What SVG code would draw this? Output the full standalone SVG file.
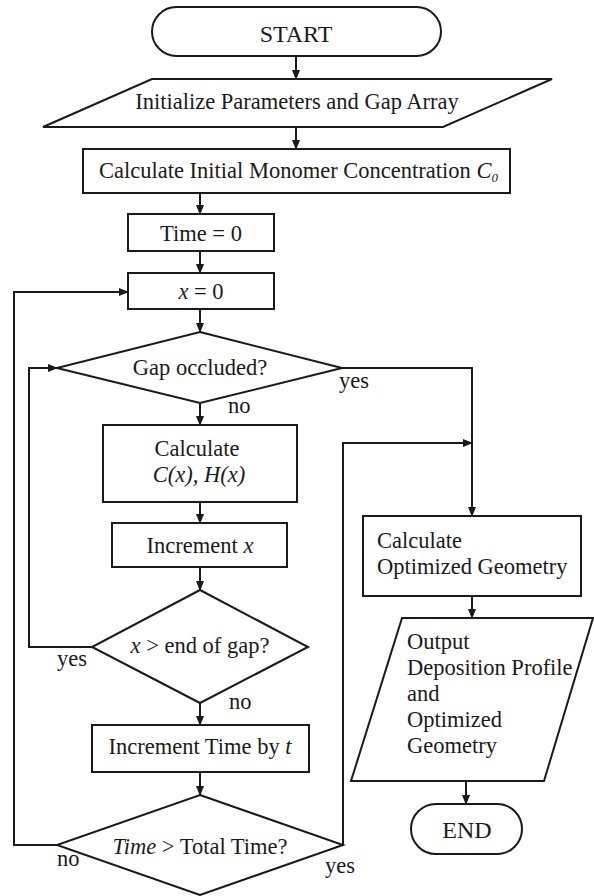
<svg xmlns="http://www.w3.org/2000/svg" width="594" height="896" viewBox="0 0 594 896">
<style>
.s{fill:#fff;stroke:#1a1a1a;stroke-width:2}
.c{fill:none;stroke:#1a1a1a;stroke-width:2}
text{font-family:"Liberation Serif","Times New Roman",serif;font-size:22.5px;fill:#1a1a1a}
.m{text-anchor:middle}
.i{font-style:italic}
.b{font-size:24px}
</style>
<defs>
<marker id="ah" markerWidth="10" markerHeight="8" refX="9" refY="4" orient="auto" markerUnits="userSpaceOnUse">
<path d="M0,0 L10,4 L0,8 Z" fill="#1a1a1a"/>
</marker>
</defs>
<rect width="594" height="896" fill="#fff"/>
<g id="connectors">
<path class="c" d="M296,56 V79" marker-end="url(#ah)"/>
<path class="c" d="M296,127 V149" marker-end="url(#ah)"/>
<path class="c" d="M200,193 V214" marker-end="url(#ah)"/>
<path class="c" d="M200,251 V273" marker-end="url(#ah)"/>
<path class="c" d="M200,309 V332" marker-end="url(#ah)"/>
<path class="c" d="M200,403 V425" marker-end="url(#ah)"/>
<path class="c" d="M200,502 V523" marker-end="url(#ah)"/>
<path class="c" d="M200,567 V590" marker-end="url(#ah)"/>
<path class="c" d="M200,703 V725" marker-end="url(#ah)"/>
<path class="c" d="M200,772 V795" marker-end="url(#ah)"/>
<path class="c" d="M472,596 V618" marker-end="url(#ah)"/>
<path class="c" d="M466,781 V804" marker-end="url(#ah)"/>
<path class="c" d="M57,845 H14 V292 H128" marker-end="url(#ah)"/>
<path class="c" d="M92,647 H29 V368 H57" marker-end="url(#ah)"/>
<path class="c" d="M342,368 H472 V516" marker-end="url(#ah)"/>
<path class="c" d="M343,845 V443 H472" marker-end="url(#ah)"/>
<text x="339" y="388">yes</text>
<text x="228" y="413">no</text>
<text x="57" y="666">yes</text>
<text x="229" y="709">no</text>
<text x="57" y="866">no</text>
<text x="325" y="873">yes</text>
</g>
<g id="start">
<rect class="s" x="152" y="7" width="289" height="49" rx="24.5"/>
<text class="m b" x="296" y="42">START</text>
</g>
<g id="init">
<path class="s" d="M152,79 H552 L443,127 H43 Z"/>
<text class="m" x="297" y="109">Initialize Parameters and Gap Array</text>
</g>
<g id="calc-init">
<rect class="s" x="83" y="149" width="427" height="44"/>
<text x="99" y="178">Calculate Initial Monomer Concentration <tspan class="i">C</tspan><tspan class="i" font-size="13" dy="4">0</tspan></text>
</g>
<g id="time0">
<rect class="s" x="128" y="214" width="146" height="37"/>
<text class="m" x="201" y="241">Time = 0</text>
</g>
<g id="x0">
<rect class="s" x="128" y="273" width="146" height="36"/>
<text class="m" x="201" y="299"><tspan class="i">x</tspan> = 0</text>
</g>
<g id="gap">
<path class="s" d="M200,332 L342,368 L200,403 L57,368 Z"/>
<text class="m" x="200" y="375">Gap occluded?</text>
</g>
<g id="calc-ch">
<rect class="s" x="103" y="425" width="194" height="77"/>
<text class="m" x="197" y="456">Calculate</text>
<text class="m i" x="199" y="482">C(x), H(x)</text>
</g>
<g id="inc-x">
<rect class="s" x="112" y="523" width="175" height="44"/>
<text class="m" x="200" y="553">Increment <tspan class="i">x</tspan></text>
</g>
<g id="end-gap">
<path class="s" d="M200,590 L308,647 L200,703 L92,647 Z"/>
<text class="m" x="200" y="653"><tspan class="i">x</tspan> &gt; end of gap?</text>
</g>
<g id="inc-time">
<rect class="s" x="92" y="725" width="217" height="47"/>
<text class="m" x="200" y="754">Increment Time by <tspan class="i">t</tspan></text>
</g>
<g id="total-time">
<path class="s" d="M200,795 L343,845 L200,895 L57,845 Z"/>
<text class="m" x="200" y="854"><tspan class="i">Time</tspan> &gt; Total Time?</text>
</g>
<g id="calc-opt">
<rect class="s" x="363" y="516" width="218" height="80"/>
<text x="377" y="548">Calculate</text>
<text x="377" y="574">Optimized Geometry</text>
</g>
<g id="output">
<path class="s" d="M402,618 H593 L544,781 H351 Z"/>
<text x="407" y="649">Output</text>
<text x="407" y="675">Deposition Profile</text>
<text x="407" y="701">and</text>
<text x="407" y="727">Optimized</text>
<text x="407" y="753">Geometry</text>
</g>
<g id="end">
<rect class="s" x="411" y="804" width="111" height="50" rx="25"/>
<text class="m b" x="467" y="838">END</text>
</g>
</svg>
